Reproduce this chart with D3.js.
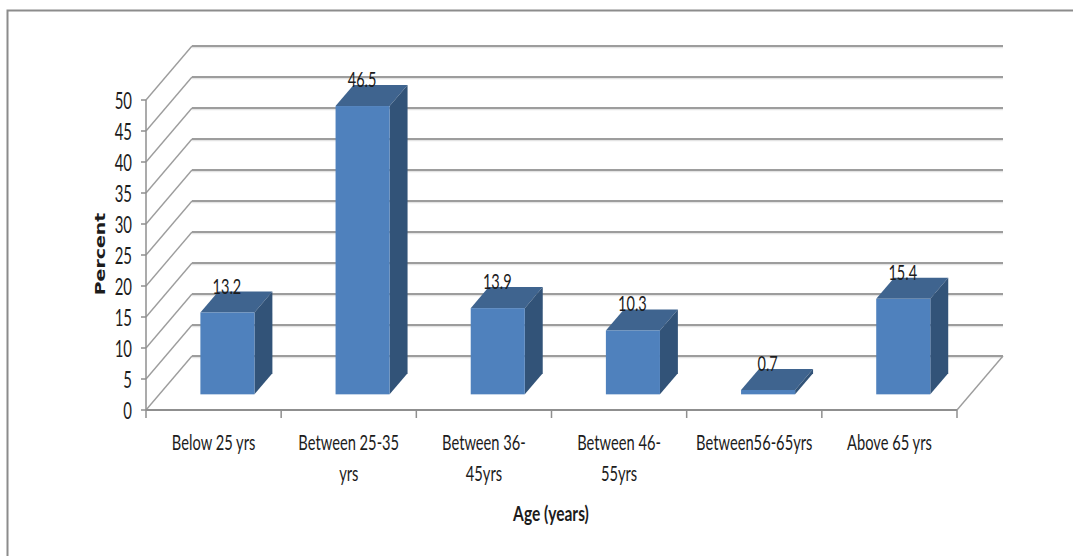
<!DOCTYPE html>
<html>
<head>
<meta charset="utf-8">
<script src="https://cdn.jsdelivr.net/npm/d3@7/dist/d3.min.js"></script>
<style>
html,body{margin:0;padding:0;background:#fff;}
svg{display:block;}
text{fill:#1c1c1c;}
</style>
</head>
<body>
<svg id="chart" width="1073" height="556"></svg>
<script>
const categories = [["Below 25 yrs"],["Between 25-35","yrs"],["Between 36-","45yrs"],["Between 46-","55yrs"],["Between56-65yrs"],["Above 65 yrs"]];
const percents = [13.2, 46.5, 13.9, 10.3, 0.7, 15.4];
const percentTicks = [0,5,10,15,20,25,30,35,40,45,50];

const svg = d3.select("#chart");

// Oblique projection: depth runs up and to the right of the front plane.
const x = d3.scaleBand().domain(d3.range(categories.length)).range([146, 957]);
const y = d3.scaleLinear().domain([0, 50]).range([410, 100]);
const depthX = d3.scaleLinear().domain([0, 1]).range([0, 46]);
const depthY = d3.scaleLinear().domain([0, 1]).range([0, -54]);
const gridColor = "#9d9d9d";

// Condensed text: Lato squeezed horizontally about its anchor.
function narrowText(parent, px, py, str, size, squeeze, anchor, weight) {
  return parent.append("text")
    .attr("transform", `translate(${px},${py}) scale(${squeeze},1)`)
    .attr("font-family", "Lato,sans-serif").attr("font-size", size)
    .attr("font-weight", weight || "normal")
    .attr("text-anchor", anchor).text(str);
}

// Chart frame
svg.append("path").attr("d", "M7.5,556V10.5H1073").attr("fill", "none")
  .attr("stroke", "#8c8c8c").attr("stroke-width", 2);

// Back wall gridlines, with a pale edge underneath
const grid = svg.append("g");
percentTicks.forEach(t => {
  const yb = y(t) + depthY(1), x0 = x.range()[0] + depthX(1), x1 = x.range()[1] + depthX(1);
  grid.append("line").attr("x1", x0).attr("x2", x1).attr("y1", yb + 1.5).attr("y2", yb + 1.5)
    .attr("stroke", "#e4e4e4").attr("stroke-width", 1.5);
  grid.append("line").attr("x1", x0).attr("x2", x1).attr("y1", yb).attr("y2", yb)
    .attr("stroke", gridColor).attr("stroke-width", 1.8);
  // Side wall diagonal
  grid.append("line").attr("x1", x.range()[0]).attr("y1", y(t))
    .attr("x2", x0).attr("y2", yb).attr("stroke", gridColor).attr("stroke-width", 1.4);
});
// Floor's right edge
grid.append("line").attr("x1", x.range()[1]).attr("y1", y(0))
  .attr("x2", x.range()[1] + depthX(1)).attr("y2", y(0) + depthY(1))
  .attr("stroke", gridColor).attr("stroke-width", 1.4);

// Axes in the front plane
const axes = svg.append("g").attr("stroke", "#8f8f8f");
axes.append("line").attr("x1", 146).attr("x2", 146).attr("y1", y(50)).attr("y2", y(0)).attr("stroke-width", 1.5);
axes.append("line").attr("x1", 146).attr("x2", 957).attr("y1", y(0)).attr("y2", y(0)).attr("stroke-width", 2);
percentTicks.forEach(t => {
  axes.append("line").attr("x1", 141).attr("x2", 146).attr("y1", y(t)).attr("y2", y(t)).attr("stroke-width", 1.5);
});
d3.range(categories.length + 1).forEach(i => {
  const px = i === categories.length ? x.range()[1] : x(i);
  axes.append("line").attr("x1", px).attr("x2", px).attr("y1", y(0)).attr("y2", 418).attr("stroke-width", 1.5);
});

// Bars: front face, top and side
const barFront = 0.29, barBack = 0.68, barShare = 0.4;
const bars = svg.append("g").selectAll("g").data(percents).join("g");
const bw = x.bandwidth() * barShare;
const barLeft = (d, i) => x(i) + (x.bandwidth() - bw) / 2 + depthX(barFront) + 0.5;
const barBase = () => y(0) + depthY(barFront);
const barTop = d => barBase() - (y(0) - y(d));
const dx = depthX(barBack - barFront), dy = depthY(barBack - barFront);

bars.append("path").attr("fill", "#3f648f").attr("d", (d, i) => {
  const l = barLeft(d, i), t = barTop(d);
  return `M${l},${t}L${l + dx},${t + dy}H${l + bw + dx}L${l + bw},${t}Z`;
});
bars.append("path").attr("fill", "#325378").attr("d", (d, i) => {
  const r = barLeft(d, i) + bw, t = barTop(d), b = barBase();
  return `M${r},${t}L${r + dx},${t + dy}V${b + dy}L${r},${b}Z`;
});
bars.append("rect").attr("x", barLeft).attr("y", barTop).attr("width", bw)
  .attr("height", d => barBase() - barTop(d)).attr("fill", "#4f81bd");

// Value labels
percents.forEach((d, i) => {
  narrowText(svg, barLeft(d, i) + bw / 2 - 0.5, barTop(d) - 19, d, 22, 0.66, "middle");
});

// Tick labels
percentTicks.forEach(t => {
  narrowText(svg, 132, y(t) + 9, t, 23, 0.65, "end");
});
categories.forEach((lines, i) => {
  lines.forEach((s, j) => {
    narrowText(svg, x(i) + x.bandwidth() / 2, 450 + j * 31, s, 21, 0.7, "middle");
  });
});

// Axis titles
svg.append("text").attr("transform", "translate(105,254) rotate(-90) scale(1.35,1)").attr("text-anchor", "middle")
  .attr("font-family", "'DejaVu Sans',sans-serif").attr("font-weight", "bold").attr("font-size", 14).text("Percent");
narrowText(svg, 551, 521, "Age (years)", 21, 0.74, "middle", "bold");
</script>
</body>
</html>
